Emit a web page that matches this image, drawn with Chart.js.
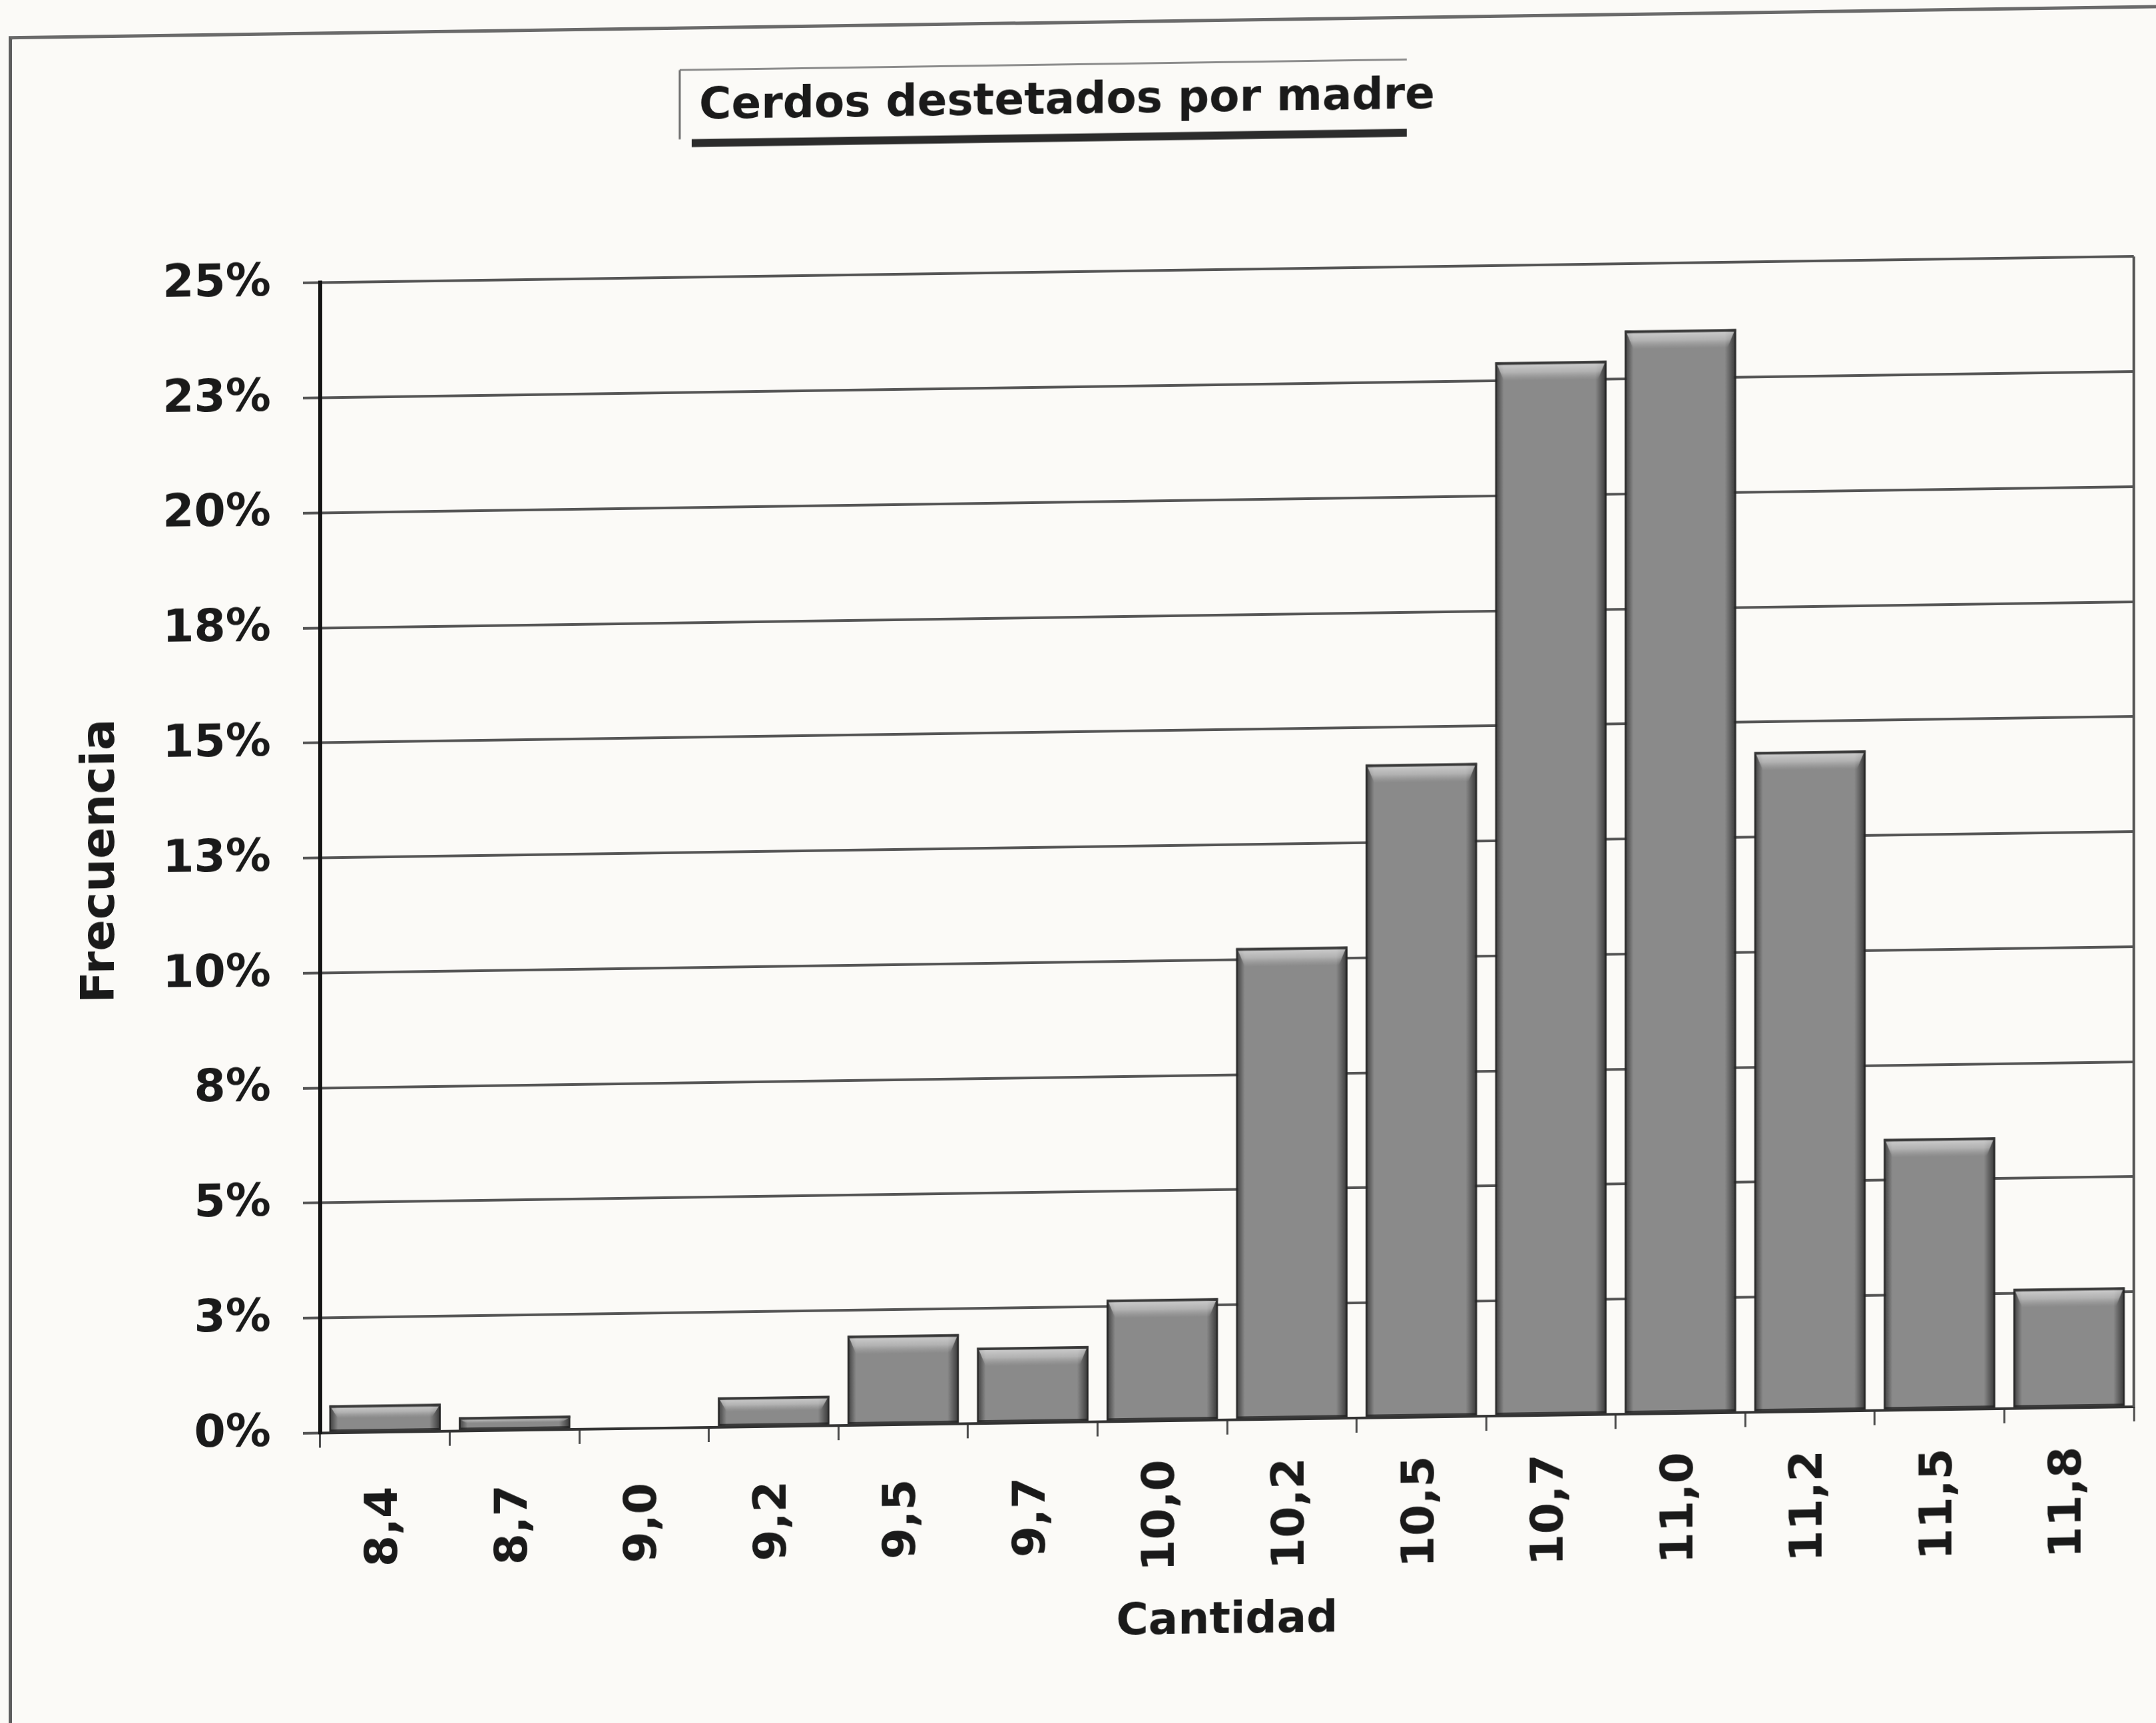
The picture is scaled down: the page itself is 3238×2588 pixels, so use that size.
<!DOCTYPE html>
<html lang="es">
<head>
<meta charset="utf-8">
<title>Cerdos destetados por madre</title>
<script src="https://cdn.jsdelivr.net/npm/chart.js@4.4.1/dist/chart.umd.min.js"></script>
<style>
  html, body { margin: 0; padding: 0; background: #fbfaf7; overflow: hidden; }
  #page {
    position: absolute; left: 0; top: 0; width: 3238px; height: 2588px;
    transform: skewY(-0.83deg);
  }
  #frame {
    position: absolute; left: 13px; top: 31px; width: 3400px; height: 2700px;
    border-left: 5px solid #5e5e5e; border-top: 5px solid #6a6a6a;
  }
  #chart { position: absolute; left: 0; top: 0; }
</style>
</head>
<body>
<div id="page">
  <div id="frame"></div>
  <canvas id="chart" width="3238" height="2588"></canvas>
</div>
<script>
// Piglets weaned per sow: frequency (%) of each average litter size
const categories = ['8,4', '8,7', '9,0', '9,2', '9,5', '9,7', '10,0', '10,2', '10,5', '10,7', '11,0', '11,2', '11,5', '11,8'];
const frequencies = [0.6, 0.3, 0, 0.65, 1.95, 1.65, 2.65, 10.25, 14.2, 22.9, 23.55, 14.35, 5.9, 2.6];
const yTickLabels = ['0%', '3%', '5%', '8%', '10%', '13%', '15%', '18%', '20%', '23%', '25%'];
const chartTitle = 'Cerdos destetados por madre';
const xAxisTitle = 'Cantidad';
const yAxisTitle = 'Frecuencia';

const FONT = '"DejaVu Sans", Verdana, sans-serif';
const INK = '#1a1a1a';
Chart.defaults.font.family = FONT;
Chart.defaults.color = INK;

// Framed title with a drop shadow under it
const titleBox = {
  id: 'titleBox',
  beforeDraw(chart) {
    const { ctx, titleBlock: tb } = chart;
    const t = chart.options.plugins.title;
    ctx.save();
    ctx.font = `bold ${t.font.size}px ${FONT}`;
    const w = ctx.measureText(t.text).width;
    const cx = (tb.left + tb.right) / 2;
    const cy = tb.top + t.padding.top + t.font.size * 1.2 / 2;
    const left = cx - w / 2 - 29, right = cx + w / 2 - 42;
    const top = cy - 56, bottom = cy + 48;
    ctx.lineCap = 'butt';
    ctx.strokeStyle = '#8c8c8c'; ctx.lineWidth = 3;
    ctx.beginPath(); ctx.moveTo(left, top); ctx.lineTo(right, top); ctx.stroke();
    ctx.strokeStyle = '#6e6e6e';
    ctx.beginPath(); ctx.moveTo(left, top); ctx.lineTo(left, bottom); ctx.stroke();
    ctx.fillStyle = '#2c2c2c';
    ctx.fillRect(left + 18, bottom, right - left - 18, 12);
    ctx.restore();
  }
};

// Right-hand edge of the plot area
const plotEdge = {
  id: 'plotEdge',
  beforeDatasetsDraw(chart) {
    const { ctx, chartArea: a } = chart;
    ctx.save();
    ctx.strokeStyle = '#555'; ctx.lineWidth = 4;
    ctx.beginPath(); ctx.moveTo(a.right, a.top); ctx.lineTo(a.right, a.bottom); ctx.stroke();
    ctx.restore();
  }
};

// Bevelled look on every bar: dark sides and a lighter top cap
const bevel = {
  id: 'bevel',
  afterDatasetsDraw(chart) {
    const { ctx } = chart;
    const meta = chart.getDatasetMeta(0);
    ctx.save();
    meta.data.forEach(bar => {
      const { x, y, base, width } = bar.getProps(['x', 'y', 'base', 'width'], true);
      const l = x - width / 2, r = x + width / 2;
      const t = Math.min(y, base), b = Math.max(y, base);
      const h = b - t;
      if (h < 2) return;
      const edge = 13;
      let g = ctx.createLinearGradient(l, 0, l + edge, 0);
      g.addColorStop(0, 'rgba(30,30,30,0.75)');
      g.addColorStop(1, 'rgba(30,30,30,0)');
      ctx.fillStyle = g; ctx.fillRect(l, t, edge, h);
      g = ctx.createLinearGradient(r - edge - 4, 0, r, 0);
      g.addColorStop(0, 'rgba(30,30,30,0)');
      g.addColorStop(1, 'rgba(30,30,30,0.8)');
      ctx.fillStyle = g; ctx.fillRect(r - edge - 4, t, edge + 4, h);
      const cap = Math.min(28, h * 0.5);
      ctx.beginPath();
      ctx.moveTo(l + 3, t + 4); ctx.lineTo(r - 3, t + 4);
      ctx.lineTo(r - edge, t + cap); ctx.lineTo(l + edge, t + cap);
      ctx.closePath();
      g = ctx.createLinearGradient(0, t, 0, t + cap);
      g.addColorStop(0, 'rgba(225,225,225,0.85)');
      g.addColorStop(0.55, 'rgba(205,205,205,0.6)');
      g.addColorStop(1, 'rgba(180,180,180,0)');
      ctx.fillStyle = g; ctx.fill();
      ctx.fillStyle = 'rgba(55,55,55,0.85)';
      ctx.fillRect(l, t, width, 4);
    });
    ctx.restore();
  }
};

// Category labels, read bottom-to-top and centred under each bar
const xLabels = {
  id: 'xLabels',
  afterDraw(chart) {
    const { ctx } = chart;
    const xs = chart.scales.x;
    ctx.save();
    ctx.font = `bold 68px ${FONT}`;
    ctx.fillStyle = INK;
    ctx.textAlign = 'center';
    ctx.textBaseline = 'middle';
    categories.forEach((label, i) => {
      ctx.save();
      ctx.translate(xs.getPixelForValue(i), xs.top + 142);
      ctx.rotate(-Math.PI / 2);
      ctx.fillText(label, 0, 0);
      ctx.restore();
    });
    ctx.restore();
  }
};

new Chart(document.getElementById('chart'), {
  type: 'bar',
  data: {
    labels: categories,
    datasets: [{
      data: frequencies,
      backgroundColor: '#8a8a8a',
      borderColor: '#3b3b3b',
      borderWidth: 3,
      borderSkipped: false,
      barPercentage: 0.86,
      categoryPercentage: 1.0
    }]
  },
  options: {
    responsive: false,
    devicePixelRatio: 1,
    animation: false,
    layout: { padding: { left: 0, right: 33, top: 0, bottom: 0 } },
    plugins: {
      legend: { display: false },
      tooltip: { enabled: false },
      title: {
        display: true,
        text: chartTitle,
        color: INK,
        font: { family: FONT, size: 66, weight: 'bold', lineHeight: 1.2 },
        padding: { top: 113, bottom: 216 }
      }
    },
    scales: {
      x: {
        grid: { display: true, drawOnChartArea: false, drawTicks: true, tickLength: 22, color: '#4d4d4d', lineWidth: 3 },
        border: { display: true, color: '#333', width: 4 },
        ticks: { color: 'rgba(0,0,0,0)', autoSkip: false, maxRotation: 90, minRotation: 90, font: { size: 68, weight: 'bold' } },
        title: {
          display: true, text: xAxisTitle, color: INK,
          font: { size: 66, weight: 'bold', lineHeight: 1.2 },
          padding: { top: 0, bottom: 110 }
        },
        afterFit(scale) { scale.height = 452; }
      },
      y: {
        min: 0,
        max: 25,
        ticks: {
          stepSize: 2.5,
          padding: 48,
          color: INK,
          font: { size: 68, weight: 'bold' },
          callback: (value, index) => yTickLabels[index]
        },
        grid: { color: '#555', lineWidth: 4, tickLength: 26, drawTicks: true },
        border: { display: true, color: '#141414', width: 6 },
        title: {
          display: true, text: yAxisTitle, color: INK,
          font: { size: 70, weight: 'bold', lineHeight: 1.2 },
          padding: { top: 111, bottom: 0 }
        },
        afterFit(scale) { scale.width = 481; }
      }
    }
  },
  plugins: [titleBox, plotEdge, bevel, xLabels]
});
</script>
</body>
</html>
